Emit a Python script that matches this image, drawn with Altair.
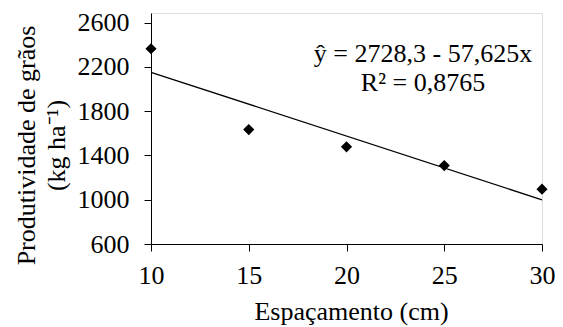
import altair as alt
import pandas as pd

# data
espacamento = [10, 15, 20, 25, 30]
produtividade = [2365, 1634, 1478, 1309, 1096]
intercept = 2728.3
slope = -57.625
y_ticks = [600, 1000, 1400, 1800, 2200, 2600]
x_ticks = [10, 15, 20, 25, 30]
eq_lines = ["ŷ = 2728,3 - 57,625x", "R² = 0,8765"]
y_title = ["Produtividade de grãos", "(kg ha⁻¹)"]
x_title = "Espaçamento (cm)"

FONT = "Liberation Serif, Times New Roman, serif"
FS = 26

pts = pd.DataFrame({"x": espacamento, "y": produtividade})
line_df = pd.DataFrame({"x": [min(espacamento), max(espacamento)]})
line_df["y"] = intercept + slope * line_df["x"]

xscale = alt.Scale(domain=[10, 30], nice=False, zero=False)
yscale = alt.Scale(domain=[600, 2688], nice=False, zero=False)

common = dict(grid=False, tickSize=7, format="d", labelFlush=False,
              labelFont=FONT, titleFont=FONT, labelFontSize=FS, titleFontSize=FS,
              titleFontWeight="normal", labelColor="black", titleColor="black",
              domainColor="black", tickColor="black", domainWidth=1, tickWidth=1,
              labelOverlap=False)

xaxis = alt.Axis(values=x_ticks, title=x_title,
                 labelBaseline="alphabetic", labelPadding=32,
                 titleBaseline="alphabetic", titleY=75, titleX=200, **common)
yaxis = alt.Axis(values=y_ticks, title=y_title,
                 labelPadding=15, titleAngle=-90, titleBaseline="middle",
                 titleX=-125, titleY=132, titleLineHeight=30, **common)

points = alt.Chart(pts).mark_point(shape="diamond", filled=True, color="black",
                                   size=125, opacity=1).encode(
    x=alt.X("x:Q", scale=xscale, axis=xaxis),
    y=alt.Y("y:Q", scale=yscale, axis=yaxis),
)

reg = alt.Chart(line_df).mark_line(color="black", strokeWidth=1.3).encode(
    x=alt.X("x:Q", scale=xscale, axis=xaxis),
    y=alt.Y("y:Q", scale=yscale, axis=yaxis),
)

eq = alt.Chart(pd.DataFrame({"t": ["\n".join(eq_lines)]})).mark_text(
    align="center", baseline="alphabetic", font=FONT, fontSize=FS,
    lineBreak="\n", lineHeight=29, color="black"
).encode(x=alt.value(272), y=alt.value(49), text="t:N")

chart = alt.layer(reg, points, eq).properties(
    width=391, height=231, autosize="none",
    padding={"left": 143, "top": 5, "right": 13, "bottom": 82},
).configure_view(stroke=None).configure(font=FONT).configure_axis(
    labelFont=FONT, titleFont=FONT
)

chart.save("out.html", embed_options={"renderer": "svg", "actions": False})
